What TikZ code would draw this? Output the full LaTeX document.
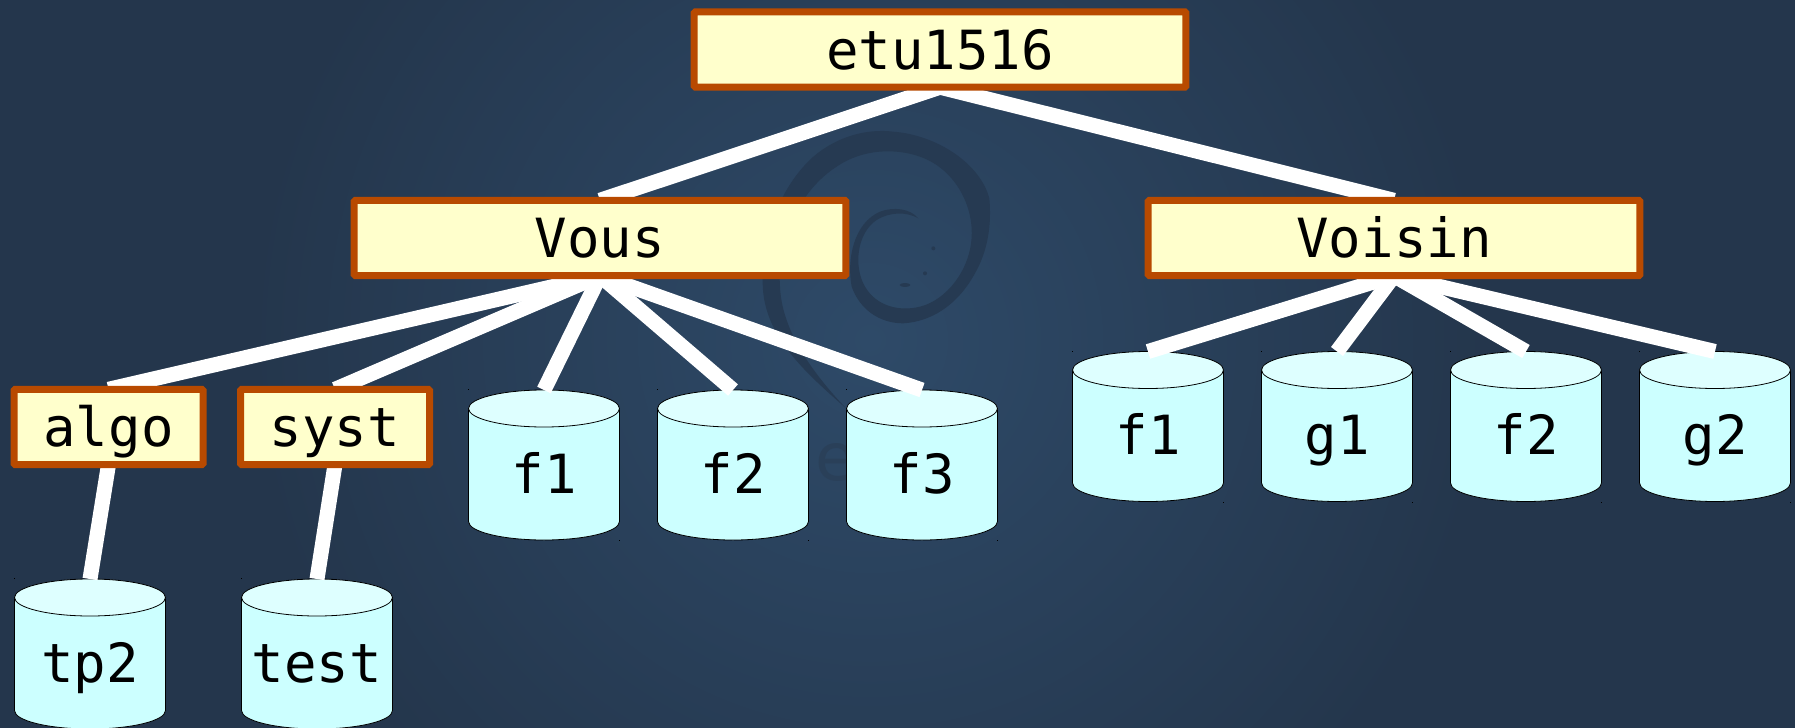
\documentclass[tikz,border=0pt]{standalone}
\usepackage{fontspec}
\setmonofont{DejaVu Sans Mono}
\setsansfont{DejaVu Sans}
\definecolor{bgedge}{HTML}{24364C}
\definecolor{bgmid}{HTML}{2E4A68}
\definecolor{swirlcol}{HTML}{263A52}
\definecolor{ghostcol}{HTML}{2A4059}
\definecolor{boxfill}{HTML}{FFFFCC}
\definecolor{boxline}{HTML}{B84A00}
\definecolor{cylbody}{HTML}{CCFFFF}
\definecolor{cyltop}{HTML}{DEFFFF}
\pgfdeclarelayer{edges}
\pgfdeclarelayer{boxes}
\pgfsetlayers{main,edges,boxes}
\tikzset{
  x=0.5pt,y=-0.5pt,
  dirbox/.style={draw=boxline,fill=boxfill,line width=3.5pt,rounded corners=0.6pt,minimum height=37.7pt,inner sep=0pt,outer sep=0pt,text height=19.7pt,text depth=0pt,font=\ttfamily\fontsize{27pt}{27pt}\selectfont},
  wide/.style={minimum width=245.8pt},
  narrow/.style={minimum width=94.5pt},
  filecyl/.style={rectangle,minimum width=75.5pt,minimum height=75pt,inner sep=0pt,outer sep=0pt,text height=28pt,text depth=0pt,font=\ttfamily\fontsize{27pt}{27pt}\selectfont},
  cylline/.style={draw=black,line width=0.4pt},
  link/.style={draw=white,line width=7.5pt},
  speck/.style={fill=black}
}
\begin{document}
\begin{tikzpicture}
\useasboundingbox (0,0) rectangle (1795,728);
\fill[bgedge] (0,0) rectangle (1795,728);
\shade[inner color=bgmid,outer color=bgedge] (870,340) circle [radius=620];
% swirl
\begin{scope}[shift={(740,110)},scale=0.33333]
\fill[swirlcol] (318,895)
 .. controls (200,790) and (70,680) .. (68,520)
 .. controls (65,380) and (120,230) .. (220,140)
 .. controls (290,80) and (380,55) .. (460,65)
 .. controls (590,75) and (720,160) .. (748,265)
 .. controls (755,340) and (745,420) .. (705,490)
 .. controls (650,590) and (570,635) .. (490,640)
 .. controls (420,640) and (360,600) .. (335,530)
 .. controls (320,450) and (340,340) .. (420,305)
 .. controls (460,290) and (510,295) .. (535,325)
 .. controls (500,305) and (450,305) .. (410,330)
 .. controls (350,370) and (340,470) .. (375,530)
 .. controls (410,590) and (480,605) .. (540,590)
 .. controls (620,570) and (690,480) .. (695,380)
 .. controls (700,280) and (640,175) .. (540,140)
 .. controls (470,115) and (370,115) .. (290,170)
 .. controls (180,240) and (110,390) .. (120,530)
 .. controls (125,650) and (200,770) .. (318,895) -- cycle;
\fill[swirlcol] (580,415) circle [radius=6];
\fill[swirlcol] (555,490) circle [radius=6];
\fill[swirlcol] (495,525) ellipse [x radius=16,y radius=6];
\end{scope}
\node[text=ghostcol,font=\sffamily\fontsize{33pt}{33pt}\selectfont,inner sep=0pt] (ghost) at (836,462) {e};
% text nodes of the cylinders (their bodies are drawn just below)
\begin{pgfonlayer}{boxes}
\node[filecyl] (cf1) at (544,465) {f1};
\node[filecyl] (cf2) at (733,465) {f2};
\node[filecyl] (cf3) at (922,465) {f3};
\node[filecyl] (vf1) at (1148,426.5) {f1};
\node[filecyl] (vg1) at (1337,426.5) {g1};
\node[filecyl] (vf2) at (1526,426.5) {f2};
\node[filecyl] (vg2) at (1715,426.5) {g2};
\node[filecyl] (tp) at (90,654) {tp2};
\node[filecyl] (te) at (317,654) {test};
\node[dirbox,wide] (root) at (940,49.5) {etu1516};
\node[dirbox,wide] (vous) at (600,238) {Vous};
\node[dirbox,wide] (voisin) at (1394,238) {Voisin};
\node[dirbox,narrow] (algo) at (108.5,427) {algo};
\node[dirbox,narrow] (syst) at (335,427) {syst};
\end{pgfonlayer}
\foreach \c in {cf1,cf2,cf3,vf1,vg1,vf2,vg2,tp,te}{
  \begin{scope}[shift={(\c.center)}]
  \path[cylline,fill=cylbody] (-75.5,-56.5) -- (-75.5,56.5)
    .. controls (-75.5,66.7) and (-41.7,75) .. (0,75)
    .. controls (41.7,75) and (75.5,66.7) .. (75.5,56.5)
    -- (75.5,-56.5) -- cycle;
  \path[cylline,fill=cyltop] (-75.5,-56.5)
    .. controls (-75.5,-66.7) and (-41.7,-75) .. (0,-75)
    .. controls (41.7,-75) and (75.5,-66.7) .. (75.5,-56.5)
    .. controls (75.5,-46.3) and (41.7,-38) .. (0,-38)
    .. controls (-41.7,-38) and (-75.5,-46.3) .. (-75.5,-56.5) -- cycle;
  \fill[speck] (-76,-76) rectangle (-75,-75);
  \fill[speck] (75,75) rectangle (76,76);
  \end{scope}
}
\begin{pgfonlayer}{edges}
\draw[link] (root.south) -- (vous.north);
\draw[link] (root.south) -- (voisin.north);
\draw[link] (vous.south) -- (algo.north);
\draw[link] (vous.south) -- (syst.north);
\draw[link] (vous.south) -- (cf1.north);
\draw[link] (vous.south) -- (cf2.north);
\draw[link] (vous.south) -- (cf3.north);
\draw[link] (voisin.south) -- (vf1.north);
\draw[link] (voisin.south) -- (vg1.north);
\draw[link] (voisin.south) -- (vf2.north);
\draw[link] (voisin.south) -- (vg2.north);
\draw[link] (algo.south) -- (tp.north);
\draw[link] (syst.south) -- (te.north);
\end{pgfonlayer}
\end{tikzpicture}
\end{document}
